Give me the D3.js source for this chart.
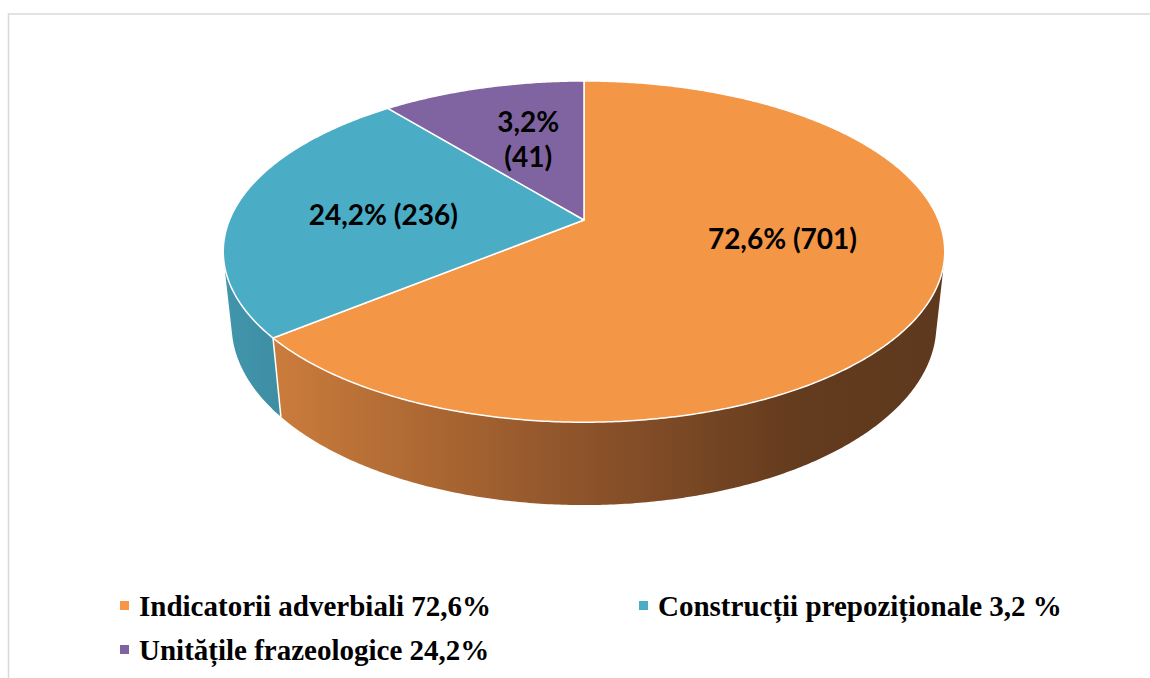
<!DOCTYPE html>
<html>
<head>
<meta charset="utf-8">
<script src="https://cdn.jsdelivr.net/npm/d3@7"></script>
<style>
  body { margin: 0; background: #fff; }
  svg { display: block; }
</style>
</head>
<body>
<script>
const width = 1150;
const height = 678;

// legend entries, in series order (text copied as shown)
const legendLabels = ['Indicatorii adverbiali 72,6%', 'Construcții prepoziționale 3,2 %', 'Unitățile frazeologice 24,2%'];
// data labels printed on the slices
const sliceLabels = [['72,6% (701)'], ['24,2% (236)'], ['3,2%', '(41)']];
// share of the circle each slice takes, as drawn
const sliceShares = [64.1, 25.0, 10.9];
const topColors = ['#f39646', '#4bacc6', '#8064a2'];
const legendColors = ['#f79646', '#4bacc6', '#8064a2'];
// where each label sits: angle (deg, clockwise from top) and radius fraction
const labelAngles = [102, 273, 342];
const labelRadii = [0.56, 0.57, 0.56];

// 3d view settings
const cx = 584, cy = 220;
const K = 354.5;
const alpha = 27.7 * Math.PI / 180;
const q = 0.209;
const D = 1 / q;
const k = K * D;
const depthH = 0.236;

function project(theta, yw, r = 1) {
  const X = r * Math.sin(theta);
  const Z = -r * Math.cos(theta);
  const vy = yw - D * Math.sin(alpha);
  const vz = Z - D * Math.cos(alpha);
  const depth = -vy * Math.sin(alpha) - vz * Math.cos(alpha);
  const sy = vy * Math.cos(alpha) - vz * Math.sin(alpha);
  return [cx + k * X / depth, cy - k * sy / depth];
}

function rim(a, b, yw) {
  const n = Math.max(2, Math.ceil(Math.abs(b - a) / (Math.PI / 360)));
  return d3.range(n + 1).map(i => project(a + (b - a) * i / n, yw));
}

const svg = d3.select('body').append('svg')
  .attr('width', width)
  .attr('height', height);

// chart frame
svg.append('rect')
  .attr('x', 8.5).attr('y', 14)
  .attr('width', 1300).attr('height', 900)
  .attr('fill', 'none')
  .attr('stroke', '#d9d9d9')
  .attr('stroke-width', 1.5);

const pie = d3.pie().sort(null).value(d => d)(sliceShares);

// wall gradients
const xLeft = cx - K * 1.017, xRight = cx + K * 1.017;
const defs = svg.append('defs');
const gradStops = [
  [[0, '#d4833f'], [0.08, '#c97b3b'], [0.5, '#8d532a'], [0.8, '#633b1e'], [1, '#5e391d']],
  [[0, '#4196ac'], [0.1, '#3d8ba1'], [1, '#3a8298']],
  [[0, '#6a5287'], [1, '#4e3c63']]
];
gradStops.forEach((stops, i) => {
  const g = defs.append('linearGradient')
    .attr('id', 'wall' + i)
    .attr('gradientUnits', 'userSpaceOnUse')
    .attr('x1', xLeft).attr('x2', xRight)
    .attr('y1', 0).attr('y2', 0);
  stops.forEach(s => g.append('stop').attr('offset', s[0]).attr('stop-color', s[1]));
});

const line = d3.line();

// outer wall is only seen where it faces the camera
const visLimit = Math.acos(-q / Math.cos(alpha));
const vis0 = visLimit, vis1 = 2 * Math.PI - visLimit;

const walls = svg.append('g').attr('class', 'walls');
pie.forEach((s, i) => {
  const a = Math.max(s.startAngle, vis0);
  const b = Math.min(s.endAngle, vis1);
  if (b <= a) { return; }
  const pts = rim(a, b, 0).concat(rim(b, a, -depthH));
  walls.append('path')
    .attr('d', line(pts) + 'Z')
    .attr('fill', `url(#wall${i})`);
});

// white edges where slices meet on the wall
pie.forEach(s => {
  const t = s.startAngle;
  if (t > vis0 && t < vis1) {
    walls.append('path')
      .attr('d', line([project(t, 0), project(t, -depthH)]))
      .attr('stroke', '#fff')
      .attr('stroke-width', 1.5);
  }
});

// top faces
const tops = svg.append('g').attr('class', 'tops');
pie.forEach((s, i) => {
  const pts = [project(0, 0, 0)].concat(rim(s.startAngle, s.endAngle, 0));
  tops.append('path')
    .attr('d', line(pts) + 'Z')
    .attr('fill', topColors[i])
    .attr('stroke', '#fff')
    .attr('stroke-width', 1.5)
    .attr('stroke-linejoin', 'round');
});

// data labels
const labels = svg.append('g').attr('class', 'labels')
  .attr('font-family', 'Lato, "Open Sans", sans-serif')
  .attr('font-weight', 700)
  .attr('font-size', 28)
  .attr('fill', '#000')
  .attr('text-anchor', 'middle');

sliceLabels.forEach((lines, i) => {
  const p = project(labelAngles[i] * Math.PI / 180, 0, labelRadii[i]);
  const lh = 35;
  lines.forEach((txt, j) => {
    labels.append('text')
      .attr('x', p[0])
      .attr('y', p[1] + (j - (lines.length - 1) / 2) * lh)
      .attr('dy', '0.35em')
      .text(txt);
  });
});

// legend, two per row
const legend = svg.append('g').attr('class', 'legend')
  .attr('font-family', '"Liberation Serif", "Times New Roman", serif')
  .attr('font-weight', 700)
  .attr('font-size', 29)
  .attr('fill', '#000');

const colX = [120, 639];
const rowY = [616, 660];
legendLabels.forEach((txt, i) => {
  const x = colX[i % 2];
  const y = rowY[Math.floor(i / 2)];
  legend.append('rect')
    .attr('x', x).attr('y', y - 15)
    .attr('width', 9).attr('height', 9)
    .attr('fill', legendColors[i]);
  legend.append('text')
    .attr('x', x + 19)
    .attr('y', y)
    .text(txt);
});
</script>
</body>
</html>
